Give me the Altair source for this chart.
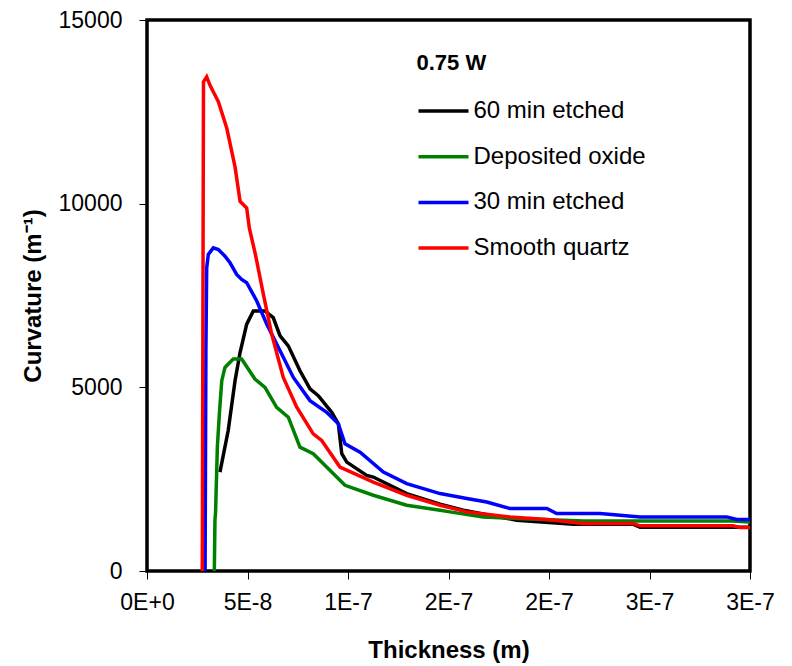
import altair as alt
import pandas as pd

# ---- data (thickness in units of 1e-8 m, curvature in 1/m) ----
series_names = ["60 min etched", "Deposited oxide", "30 min etched", "Smooth quartz"]
series_colors = ["#000000", "#008000", "#0000FF", "#FF0000"]

black_x = [3.63, 4.04, 4.38, 4.63, 4.96, 5.29, 5.87, 6.28, 6.62, 7.03, 7.61, 8.11, 8.52, 9.19,
           9.52, 9.69, 9.94, 10.93, 11.26, 12.92, 14.58, 15.74, 18.39, 21.22, 24.18, 24.53, 30.0]
black_y = [2694, 3825, 5181, 5948, 6719, 7080, 7080, 6899, 6402, 6130, 5452, 4956, 4774, 4321,
           4006, 3193, 2965, 2604, 2558, 2108, 1817, 1655, 1383, 1275, 1275, 1193, 1193]

green_x = [3.35, 3.38, 3.41, 3.50, 3.60, 3.72, 3.88, 4.29, 4.71, 5.37, 5.87, 6.45, 7.03, 7.61,
           8.27, 9.60, 9.85, 11.26, 12.92, 14.58, 15.07, 16.73, 18.39, 21.71, 29.15, 30.0]
green_y = [0, 1383, 1573, 3372, 4278, 5181, 5542, 5770, 5770, 5227, 4999, 4457, 4186, 3372,
           3193, 2468, 2333, 2062, 1790, 1655, 1609, 1473, 1430, 1364, 1364, 1337]

blue_x = [2.89, 2.93, 2.97, 3.05, 3.30, 3.55, 3.88, 4.13, 4.46, 4.71, 4.96, 5.46, 5.96, 6.62,
          7.28, 8.11, 8.94, 9.52, 9.85, 10.60, 11.76, 12.92, 14.58, 15.91, 16.90, 18.06, 19.89,
          20.38, 22.54, 24.53, 28.84, 29.34, 30.0]
blue_y = [0, 6000, 8254, 8616, 8797, 8752, 8571, 8390, 8075, 7939, 7848, 7351, 6719, 5995,
          5270, 4638, 4321, 4006, 3464, 3236, 2694, 2379, 2108, 1972, 1880, 1701, 1701,
          1565, 1565, 1473, 1473, 1402, 1402]

red_x = [2.75, 2.81, 2.97, 3.13, 3.38, 3.55, 3.97, 4.38, 4.63, 4.96, 5.09, 5.40, 5.79, 6.20,
         6.78, 7.45, 8.27, 8.69, 9.60, 11.26, 12.92, 14.58, 15.91, 18.06, 19.89, 21.69, 24.18,
         24.53, 29.15, 29.50, 30.0]
red_y = [0, 13318, 13454, 13228, 12957, 12776, 12052, 11000, 10063, 9882, 9339, 8600, 7533,
         6456, 5270, 4457, 3735, 3553, 2829, 2422, 2062, 1790, 1609, 1473, 1402, 1294, 1294,
         1229, 1229, 1185, 1185]

x_tick_values = [0, 5e-8, 1e-7, 1.5e-7, 2e-7, 2.5e-7, 3e-7]
x_tick_labels = ["0E+0", "5E-8", "1E-7", "2E-7", "2E-7", "3E-7", "3E-7"]
y_tick_values = [0, 5000, 10000, 15000]

# ---- build table ----
rows = []
for name, xs, ys in zip(series_names,
                        [black_x, green_x, blue_x, red_x],
                        [black_y, green_y, blue_y, red_y]):
    for i, (xv, yv) in enumerate(zip(xs, ys)):
        rows.append({"series": name, "thickness": xv * 1e-8, "curvature": yv, "order": i})
df = pd.DataFrame(rows)

FONT = "Liberation Sans"
label_array = "[" + ",".join("'" + s + "'" for s in x_tick_labels) + "]"

chart = alt.Chart(df).mark_line(strokeWidth=3.5, clip=True).encode(
    x=alt.X("thickness:Q",
            scale=alt.Scale(domain=[0, 3e-7], nice=False, zero=False),
            axis=alt.Axis(title="Thickness (m)", values=x_tick_values,
                          labelExpr=label_array + "[round(datum.value/5e-8)]",
                          grid=False, domain=False, tickSize=8, tickColor="#000000",
                          labelPadding=12, labelFontSize=23, labelFont=FONT,
                          labelColor="#000000", labelFlush=False, labelOverlap=False,
                          titleFont=FONT, titleFontSize=24, titleFontWeight="bold",
                          titleColor="#000000", titleX=301.5, titleY=86,
                          titleBaseline="alphabetic")),
    y=alt.Y("curvature:Q",
            scale=alt.Scale(domain=[0, 15000], nice=False),
            axis=alt.Axis(title="Curvature (m⁻¹)", values=y_tick_values, format="d",
                          grid=False, domain=False, tickSize=8, tickColor="#000000",
                          labelPadding=17, labelFontSize=23, labelFont=FONT,
                          labelColor="#000000", labelFlush=False,
                          titleFont=FONT, titleFontSize=24, titleFontWeight="bold",
                          titleColor="#000000", titleAngle=-90, titleX=-107,
                          titleY=275.5, titleAlign="center", titleBaseline="alphabetic")),
    color=alt.Color("series:N",
                    scale=alt.Scale(domain=series_names, range=series_colors),
                    sort=series_names,
                    legend=alt.Legend(title="0.75 W", orient="none",
                                      legendX=269.5, legendY=33, padding=0,
                                      titleFont=FONT, titleFontSize=22, titleFontWeight="bold",
                                      titleColor="#000000", titlePadding=24,
                                      labelFont=FONT, labelFontSize=24, labelColor="#000000",
                                      labelOffset=3, labelLimit=400,
                                      symbolType="stroke", symbolSize=2500,
                                      symbolStrokeWidth=3.5, clipHeight=24,
                                      rowPadding=21.7)),
    order=alt.Order("order:Q"),
).properties(
    width=603, height=551,
    background="#FFFFFF",
    autosize=alt.AutoSizeParams(type="none"),
    padding={"left": 139, "top": 12, "right": 34, "bottom": 96},
).configure_view(
    stroke="#000000", strokeWidth=3.5, fill="#FFFFFF"
)

chart.save("out.html", embed_options={"renderer": "svg", "actions": False})
